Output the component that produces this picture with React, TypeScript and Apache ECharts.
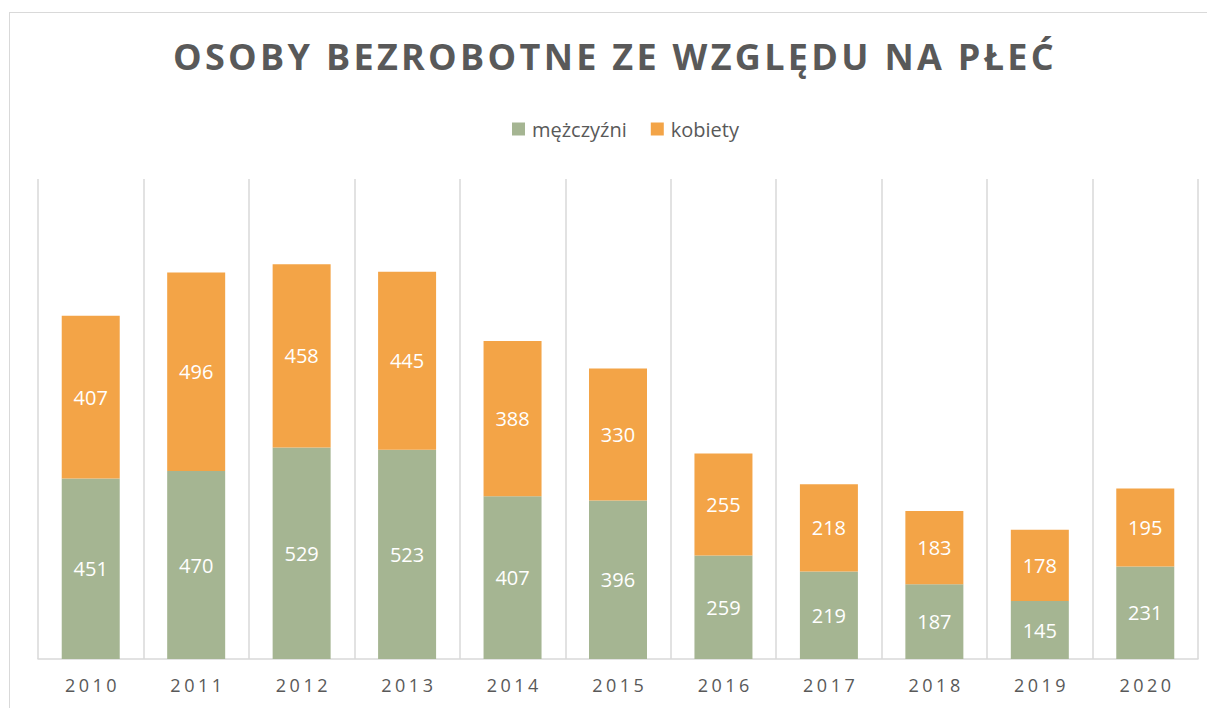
import React, { useEffect, useRef } from "react";
import * as echarts from "echarts";

const years = ["2010", "2011", "2012", "2013", "2014", "2015", "2016", "2017", "2018", "2019", "2020"];
const men = [451, 470, 529, 523, 407, 396, 259, 219, 187, 145, 231];
const women = [407, 496, 458, 445, 388, 330, 255, 218, 183, 178, 195];

const TITLE = "OSOBY BEZROBOTNE ZE WZGLĘDU NA PŁEĆ";
const FONT = "'Open Sans', 'Noto Sans', sans-serif";

export default function App() {
  const ref = useRef<HTMLDivElement>(null);
  useEffect(() => {
    const chart = echarts.init(ref.current!, null, { renderer: "svg" });
    chart.setOption({
      animation: false,
      backgroundColor: "#ffffff",
      title: {
        text: TITLE,
        left: "center",
        top: 25,
        textStyle: { fontFamily: FONT, fontSize: 36, fontWeight: "bold", color: "#595959" },
      },
      legend: {
        top: 106,
        left: 499,
        itemWidth: 13,
        itemHeight: 13,
        itemGap: 24,
        icon: "rect",
        textStyle: { fontFamily: FONT, fontSize: 20, color: "#595959", padding: [0, 0, 0, 2] },
        data: ["mężczyźni", "kobiety"],
      },
      graphic: [
        { type: "line", shape: { x1: 1, y1: 4.5, x2: 1300, y2: 4.5 }, style: { stroke: "#D9D9D9", lineWidth: 1 } },
        { type: "line", shape: { x1: 1.5, y1: 4, x2: 1.5, y2: 800 }, style: { stroke: "#D9D9D9", lineWidth: 1 } },
      ],
      grid: { left: 30, right: 17, top: 171, bottom: 49 },
      xAxis: {
        type: "category",
        data: years,
        axisLine: { lineStyle: { color: "#D9D9D9", width: 1.5 } },
        axisTick: { show: false },
        splitLine: { show: true, lineStyle: { color: "#D9D9D9", width: 1.5 } },
        axisLabel: { fontFamily: FONT, fontSize: 18, color: "#595959", margin: 17 },
      },
      yAxis: {
        type: "value",
        min: 0,
        max: 1200,
        show: false,
        splitLine: { show: false },
      },
      series: [
        {
          name: "mężczyźni",
          type: "bar",
          stack: "total",
          data: men,
          barWidth: "55%",
          itemStyle: { color: "#A5B592" },
          label: { show: true, position: "inside", color: "#ffffff", fontFamily: FONT, fontSize: 20 },
        },
        {
          name: "kobiety",
          type: "bar",
          stack: "total",
          data: women,
          barWidth: "55%",
          itemStyle: { color: "#F3A447" },
          label: { show: true, position: "inside", color: "#ffffff", fontFamily: FONT, fontSize: 20 },
        },
      ],
    });
    const applySpacing = () => {
      const dom = ref.current;
      if (!dom) return;
      dom.querySelectorAll("text").forEach((t) => {
        const s = (t.textContent || "").trim();
        if (s === TITLE) {
          t.setAttribute("letter-spacing", "3.3");
          t.setAttribute("dx", "3.5");
        } else if (years.includes(s)) {
          t.setAttribute("letter-spacing", "3.5");
          t.setAttribute("dx", "1.75");
        }
      });
    };
    applySpacing();
    chart.on("finished", applySpacing);
    const timer = setTimeout(applySpacing, 50);
    return () => {
      clearTimeout(timer);
      chart.dispose();
    };
  }, []);
  return <div ref={ref} style={{ width: 1207, height: 700, overflow: "hidden" }} />;
}
